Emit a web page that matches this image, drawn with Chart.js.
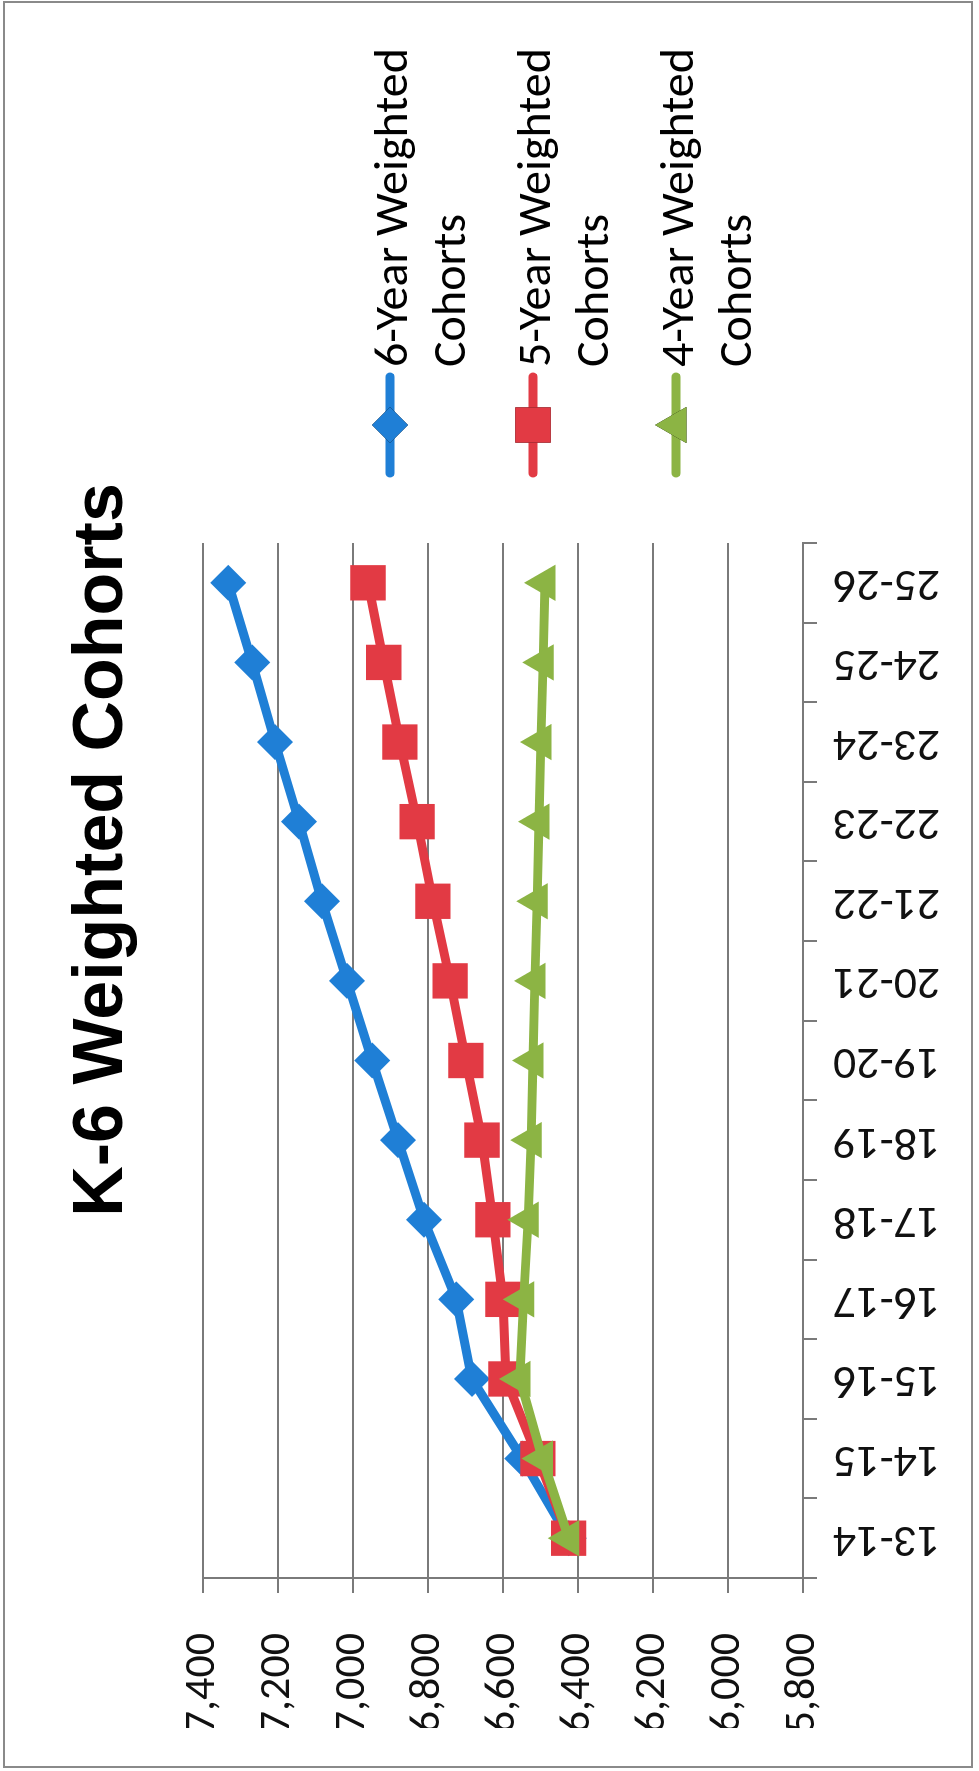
<!DOCTYPE html>
<html>
<head>
<meta charset="utf-8">
<title>K-6 Weighted Cohorts</title>
<script src="https://cdn.jsdelivr.net/npm/chart.js@4.4.1/dist/chart.umd.min.js"></script>
<style>
  html, body { margin: 0; padding: 0; background: #ffffff; }
  #wrap { position: relative; width: 979px; height: 1771px; overflow: hidden; background: #ffffff; }
  /* landscape chart turned a quarter-turn counter-clockwise onto the tall page */
  #c { position: absolute; left: 0; top: 0; width: 1771px; height: 979px;
       transform-origin: 0 0; transform: translate(0, 1771px) rotate(-90deg); }
</style>
</head>
<body>
<div id="wrap"><canvas id="c" width="1771" height="979"></canvas></div>
<script>
// School years on the category axis
const categories = ['13-14', '14-15', '15-16', '16-17', '17-18', '18-19', '19-20',
                    '20-21', '21-22', '22-23', '23-24', '24-25', '25-26'];

// K-6 enrollment projections
const sixYearCohorts  = [6425, 6549, 6683, 6725, 6811, 6880, 6949, 7016, 7083, 7144, 7208, 7269, 7333];
const fiveYearCohorts = [6425, 6507, 6592, 6600, 6627, 6656, 6699, 6741, 6787, 6829, 6875, 6918, 6960];
const fourYearCohorts = [6425, 6495, 6555, 6545, 6533, 6525, 6520, 6515, 6509, 6504, 6499, 6493, 6488];

// Series names (two lines each in the legend)
const seriesNames = [
  ['6-Year Weighted', 'Cohorts'],
  ['5-Year Weighted', 'Cohorts'],
  ['4-Year Weighted', 'Cohorts']
];

// Value axis range and step
const valueMin = 5800;
const valueMax = 7400;
const valueStep = 200;

const chartTitle = 'K-6 Weighted Cohorts';

const BLUE = '#1f7fd6';
const RED = '#e23a44';
const GREEN = '#8cb444';
const GRID = '#7a7a7a';
const LABEL_FONT = 'Carlito, Lato, "Open Sans", sans-serif';

// Title, legend and outer frame
const decorations = {
  id: 'decorations',
  afterDraw(chart) {
    const ctx = chart.ctx;
    ctx.save();

    // outer frame
    ctx.strokeStyle = '#8a8a8a';
    ctx.lineWidth = 2;
    ctx.strokeRect(4, 4, 1765, 968);

    // title
    ctx.fillStyle = '#000000';
    ctx.font = 'bold 70px "Liberation Sans", Arial, sans-serif';
    ctx.textAlign = 'center';
    ctx.textBaseline = 'alphabetic';
    ctx.fillText(chartTitle, 921, 122);

    // legend
    const startX = 1298, endX = 1394, markX = 1346, textX = 1404;
    chart.data.datasets.forEach((ds, i) => {
      const y = 390 + i * 143;
      ctx.strokeStyle = ds.borderColor;
      ctx.lineWidth = ds.borderWidth;
      ctx.lineCap = 'round';
      ctx.beginPath();
      ctx.moveTo(startX, y);
      ctx.lineTo(endX, y);
      ctx.stroke();
      Chart.helpers.drawPoint(ctx, {
        pointStyle: ds.pointStyle,
        radius: ds.pointRadius,
        rotation: 0,
        borderWidth: 0
      }, markX, y);
      ctx.fillStyle = ds.pointBackgroundColor;
      ctx.fill();

      ctx.fillStyle = '#000000';
      ctx.font = '48px ' + LABEL_FONT;
      ctx.textAlign = 'left';
      ctx.textBaseline = 'alphabetic';
      seriesNames[i].forEach((line, k) => {
        ctx.fillText(line, textX, y + 17 + k * 58);
      });
    });

    ctx.restore();
  }
};

function series(name, data, color, style, radius, order) {
  return {
    label: name.join(' '),
    data: data,
    borderColor: color,
    backgroundColor: color,
    pointBackgroundColor: color,
    pointBorderColor: color,
    pointBorderWidth: 0,
    borderWidth: 9,
    pointStyle: style,
    pointRadius: radius,
    pointHoverRadius: radius,
    tension: 0,
    clip: false,
    order: order
  };
}

new Chart(document.getElementById('c'), {
  type: 'line',
  data: {
    labels: categories,
    datasets: [
      series(seriesNames[0], sixYearCohorts, BLUE, 'rectRot', 18, 3),
      series(seriesNames[1], fiveYearCohorts, RED, 'rect', 25, 2),
      series(seriesNames[2], fourYearCohorts, GREEN, 'triangle', 21, 1)
    ]
  },
  options: {
    responsive: false,
    animation: false,
    devicePixelRatio: 1,
    layout: { padding: { left: 43, right: 543, top: 203, bottom: 26 } },
    plugins: {
      legend: { display: false },
      title: { display: false },
      tooltip: { enabled: false }
    },
    scales: {
      x: {
        type: 'category',
        offset: true,
        grid: {
          offset: true,
          drawOnChartArea: false,
          drawTicks: true,
          tickLength: 14,
          color: GRID,
          lineWidth: 2
        },
        border: { display: true, color: GRID, width: 2 },
        ticks: {
          autoSkip: false,
          minRotation: 90,
          maxRotation: 90,
          padding: 16,
          color: '#111111',
          font: { family: LABEL_FONT, size: 46 }
        },
        afterFit(scale) { scale.height = 150; }
      },
      y: {
        min: valueMin,
        max: valueMax,
        grid: {
          color: GRID,
          lineWidth: 2,
          drawTicks: true,
          tickLength: 15
        },
        border: { display: true, color: GRID, width: 2 },
        ticks: {
          stepSize: valueStep,
          padding: 40,
          color: '#111111',
          font: { family: LABEL_FONT, size: 44 },
          callback: (v) => v.toLocaleString('en-US')
        },
        afterFit(scale) { scale.width = 150; }
      }
    }
  },
  plugins: [decorations]
});
</script>
</body>
</html>
